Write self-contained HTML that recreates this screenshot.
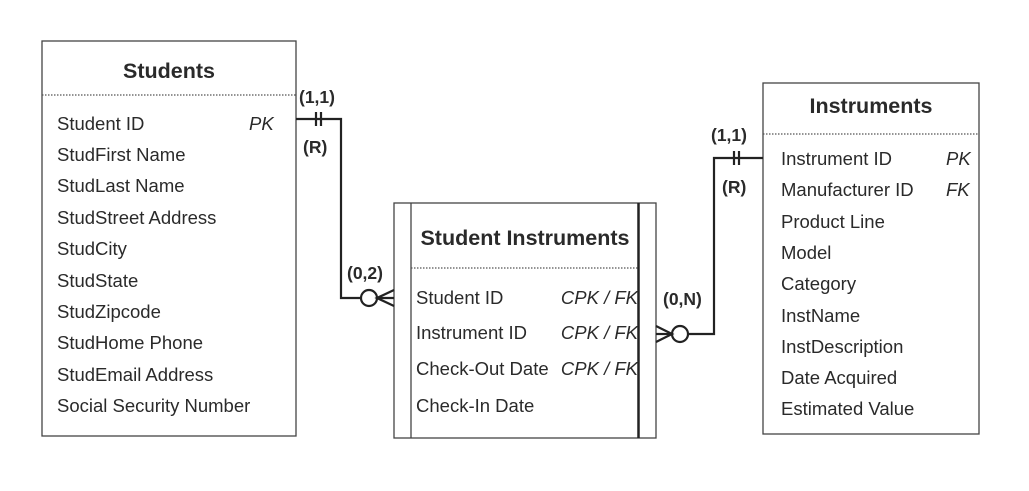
<!DOCTYPE html>
<html><head><style>
body{margin:0;background:#fff;width:1029px;height:486px;overflow:hidden}
svg text{font-family:"Liberation Sans",Arial,sans-serif;fill:#2a2a2a}
.r{font-size:18.5px}
.t{font-size:21.5px;font-weight:bold}
.c{font-size:17.5px;font-weight:bold}
.i{font-style:italic}
</style></head><body>
<svg width="1029" height="486" viewBox="0 0 1029 486" xmlns="http://www.w3.org/2000/svg">
<g fill="none" stroke="#444" stroke-width="1.3">
<rect x="42" y="41" width="254" height="395"/>
<rect x="394" y="203" width="262" height="235"/>
<line x1="411" y1="203" x2="411" y2="438"/>
<rect x="763" y="83" width="216" height="351"/>
</g>
<line x1="638.5" y1="203" x2="638.5" y2="438" stroke="#222" stroke-width="2.5"/>
<g stroke="#555" stroke-width="1.2" stroke-dasharray="1.5,1.5">
<line x1="42" y1="95" x2="296" y2="95"/>
<line x1="411" y1="268" x2="638" y2="268"/>
<line x1="763" y1="134" x2="979" y2="134"/>
</g>
<g fill="none" stroke="#222" stroke-width="2.2">
<polyline points="296,119 341,119 341,298 361,298"/>
<line x1="316" y1="112" x2="316" y2="126"/><line x1="321" y1="112" x2="321" y2="126"/>
<circle cx="369" cy="298" r="8"/>
<polyline points="394,290 377,298 394,306"/><line x1="377" y1="298" x2="394" y2="298"/>
<polyline points="763,158 714,158 714,334 688,334"/>
<line x1="734" y1="151" x2="734" y2="165"/><line x1="739" y1="151" x2="739" y2="165"/>
<circle cx="680" cy="334" r="8"/>
<polyline points="656,326 672,334 656,342"/><line x1="656" y1="334" x2="672" y2="334"/>
</g>
<text class="c" x="299" y="103">(1,1)</text>
<text class="c" x="303" y="153">(R)</text>
<text class="c" x="347" y="279">(0,2)</text>
<text class="c" x="711" y="141">(1,1)</text>
<text class="c" x="722" y="193">(R)</text>
<text class="c" x="663" y="305">(0,N)</text>
<text class="t" x="169" y="78" text-anchor="middle">Students</text>
<text class="r" x="57" y="130">Student ID</text><text class="r i" x="249" y="130">PK</text>
<text class="r" x="57" y="161">StudFirst Name</text>
<text class="r" x="57" y="192">StudLast Name</text>
<text class="r" x="57" y="224">StudStreet Address</text>
<text class="r" x="57" y="255">StudCity</text>
<text class="r" x="57" y="287">StudState</text>
<text class="r" x="57" y="318">StudZipcode</text>
<text class="r" x="57" y="349">StudHome Phone</text>
<text class="r" x="57" y="381">StudEmail Address</text>
<text class="r" x="57" y="412">Social Security Number</text>
<text class="t" x="525" y="245" text-anchor="middle">Student Instruments</text>
<text class="r" x="416" y="304">Student ID</text><text class="r i" x="638" y="304" text-anchor="end">CPK / FK</text>
<text class="r" x="416" y="339">Instrument ID</text><text class="r i" x="638" y="339" text-anchor="end">CPK / FK</text>
<text class="r" x="416" y="375">Check-Out Date</text><text class="r i" x="638" y="375" text-anchor="end">CPK / FK</text>
<text class="r" x="416" y="412">Check-In Date</text>
<text class="t" x="871" y="113" text-anchor="middle">Instruments</text>
<text class="r" x="781" y="165">Instrument ID</text><text class="r i" x="946" y="165">PK</text>
<text class="r" x="781" y="196">Manufacturer ID</text><text class="r i" x="946" y="196">FK</text>
<text class="r" x="781" y="228">Product Line</text>
<text class="r" x="781" y="259">Model</text>
<text class="r" x="781" y="290">Category</text>
<text class="r" x="781" y="322">InstName</text>
<text class="r" x="781" y="353">InstDescription</text>
<text class="r" x="781" y="384">Date Acquired</text>
<text class="r" x="781" y="415">Estimated Value</text>
</svg>
</body></html>
